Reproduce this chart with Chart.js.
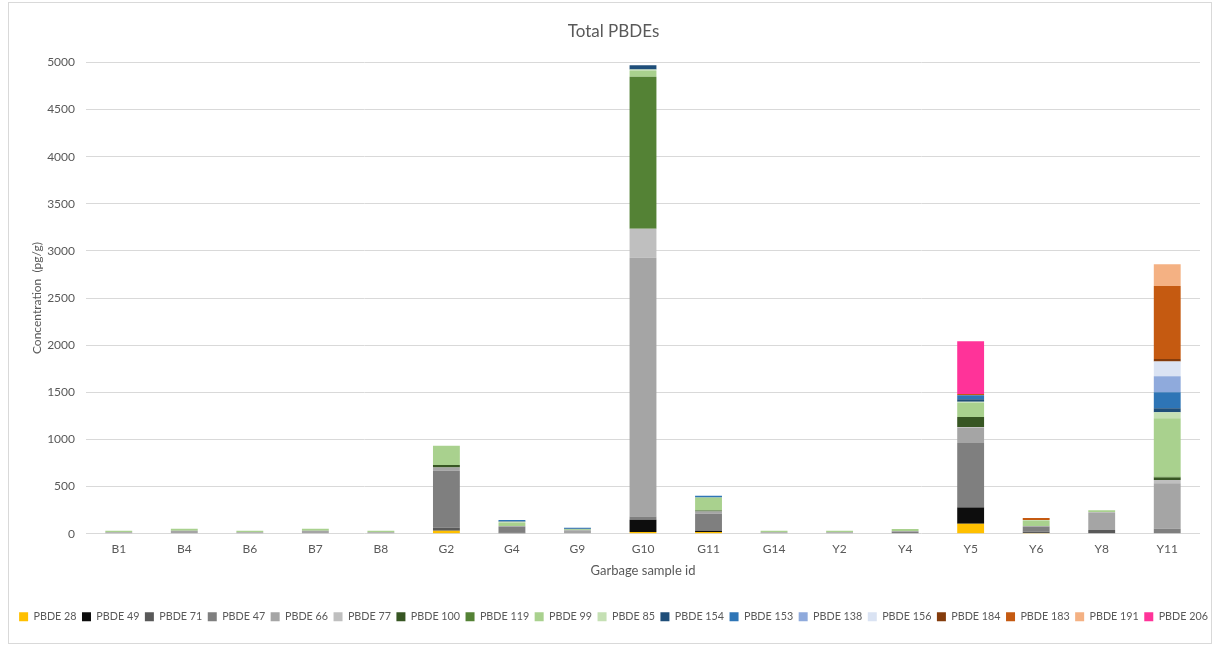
<!DOCTYPE html>
<html>
<head>
<meta charset="utf-8">
<script src="https://cdn.jsdelivr.net/npm/chart.js@4.4.1/dist/chart.umd.min.js"></script>
<style>
  html, body { margin: 0; padding: 0; background: #ffffff; }
  #wrap { position: relative; width: 1215px; height: 648px; overflow: hidden; }
  #frame { position: absolute; left: 8px; top: 2px; width: 1204px; height: 642px; border: 1px solid #d9d9d9; box-sizing: border-box; }
  #c { position: absolute; left: 0; top: 0; }
</style>
</head>
<body>
<div id="wrap">
  <div id="frame"></div>
  <canvas id="c" width="1215" height="648"></canvas>
</div>
<script>
// Sample ids on the category axis
const samples = ['B1', 'B4', 'B6', 'B7', 'B8', 'G2', 'G4', 'G9', 'G10', 'G11', 'G14', 'Y2', 'Y4', 'Y5', 'Y6', 'Y8', 'Y11'];

// Congener concentrations (pg/g), one value per sample id
const pbde28  = [0, 0, 0, 0, 0, 32, 5, 0, 18, 18, 0, 0, 0, 106, 8, 0, 0];
const pbde49  = [0, 0, 0, 0, 0, 0, 0, 0, 130, 14, 0, 0, 0, 173, 0, 0, 0];
const pbde71  = [0, 0, 0, 0, 0, 32, 8, 0, 0, 0, 0, 0, 0, 5, 12, 40, 0];
const pbde47  = [0, 0, 0, 0, 0, 604, 60, 5, 35, 180, 0, 0, 20, 678, 53, 0, 53];
const pbde66  = [15, 32, 15, 32, 15, 35, 10, 33, 2746, 25, 15, 15, 10, 162, 10, 180, 484];
const pbde77  = [0, 0, 0, 0, 0, 0, 0, 0, 307, 0, 0, 0, 0, 8, 0, 10, 32];
const pbde100 = [0, 0, 0, 0, 0, 25, 0, 0, 0, 10, 0, 0, 0, 106, 0, 0, 25];
const pbde119 = [0, 0, 0, 0, 0, 0, 0, 0, 1613, 0, 0, 0, 0, 0, 0, 0, 10];
const pbde99  = [17, 21, 17, 21, 17, 205, 30, 10, 60, 138, 17, 17, 20, 152, 53, 18, 621];
const pbde85  = [0, 0, 0, 0, 0, 0, 15, 0, 15, 0, 0, 0, 0, 10, 10, 0, 64];
const pbde154 = [0, 0, 0, 0, 0, 0, 5, 5, 46, 0, 0, 0, 0, 28, 0, 0, 42];
const pbde153 = [0, 0, 0, 0, 0, 0, 12, 10, 0, 18, 0, 0, 0, 40, 0, 0, 170];
const pbde138 = [0, 0, 0, 0, 0, 0, 0, 0, 0, 0, 0, 0, 0, 0, 0, 0, 170];
const pbde156 = [0, 0, 0, 0, 0, 0, 0, 0, 0, 0, 0, 0, 0, 0, 0, 0, 155];
const pbde184 = [0, 0, 0, 0, 0, 0, 0, 0, 0, 0, 0, 0, 0, 0, 0, 0, 28];
const pbde183 = [0, 0, 0, 0, 0, 0, 0, 0, 0, 0, 0, 0, 0, 14, 21, 0, 775];
const pbde191 = [0, 0, 0, 0, 0, 0, 0, 0, 0, 0, 0, 0, 0, 0, 0, 0, 230];
const pbde206 = [0, 0, 0, 0, 0, 0, 0, 0, 0, 0, 0, 0, 0, 560, 0, 0, 0];

// Value-axis ticks
const yTicks = [0, 500, 1000, 1500, 2000, 2500, 3000, 3500, 4000, 4500, 5000];

const congeners = [
  ['PBDE 28',  pbde28,  '#FFC000'],
  ['PBDE 49',  pbde49,  '#0D0D0D'],
  ['PBDE 71',  pbde71,  '#595959'],
  ['PBDE 47',  pbde47,  '#7F7F7F'],
  ['PBDE 66',  pbde66,  '#A5A5A5'],
  ['PBDE 77',  pbde77,  '#BFBFBF'],
  ['PBDE 100', pbde100, '#375623'],
  ['PBDE 119', pbde119, '#548235'],
  ['PBDE 99',  pbde99,  '#A9D18E'],
  ['PBDE 85',  pbde85,  '#C5E0B4'],
  ['PBDE 154', pbde154, '#1F4E79'],
  ['PBDE 153', pbde153, '#2E75B6'],
  ['PBDE 138', pbde138, '#8FAADC'],
  ['PBDE 156', pbde156, '#DAE3F3'],
  ['PBDE 184', pbde184, '#843C0C'],
  ['PBDE 183', pbde183, '#C55A11'],
  ['PBDE 191', pbde191, '#F4B183'],
  ['PBDE 206', pbde206, '#FF3399']
];

const FONT = 'Lato, "Liberation Sans", sans-serif';
const TEXT = '#595959';
const PAD_LEFT = 12;

new Chart(document.getElementById('c'), {
  type: 'bar',
  data: {
    labels: samples,
    datasets: congeners.map(([name, values, color]) => ({
      label: name,
      data: values,
      backgroundColor: color,
      borderWidth: 0,
      categoryPercentage: 1.0,
      barPercentage: 0.41
    }))
  },
  options: {
    responsive: false,
    animation: false,
    devicePixelRatio: 1,
    layout: { padding: { left: PAD_LEFT, right: 0, top: 0, bottom: 16 } },
    plugins: {
      title: {
        display: true,
        text: 'Total PBDEs',
        color: TEXT,
        font: { family: FONT, size: 17, weight: 'normal' },
        padding: { top: 21, bottom: 21 }
      },
      legend: {
        position: 'bottom',
        labels: {
          color: TEXT,
          font: { family: FONT, size: 10.75 },
          boxWidth: 9,
          boxHeight: 9,
          padding: 5.5
        }
      },
      tooltip: { enabled: false }
    },
    scales: {
      x: {
        stacked: true,
        grid: { display: false, drawTicks: false },
        border: { display: false },
        ticks: { color: TEXT, font: { family: FONT, size: 12 }, padding: 8 },
        title: {
          display: true,
          text: 'Garbage sample id',
          color: TEXT,
          font: { family: FONT, size: 13 },
          padding: { top: 0, bottom: 27 }
        },
        afterFit: (s) => { s.height = 72; }
      },
      y: {
        stacked: true,
        min: 0,
        max: 5000,
        afterBuildTicks: (s) => { s.ticks = yTicks.map(v => ({ value: v })); },
        grid: { color: '#d9d9d9', lineWidth: 1, drawTicks: false },
        border: { display: false },
        ticks: {
          color: TEXT,
          font: { family: FONT, size: 12 },
          padding: 11,
          callback: (v) => String(v)
        },
        title: {
          display: true,
          text: 'Concentration  (pg/g)',
          color: TEXT,
          font: { family: FONT, size: 12 },
          padding: { top: 37 - 7 - PAD_LEFT, bottom: 0 }
        },
        afterFit: (s) => { s.width = 86 - PAD_LEFT; }
      },
      yRight: {
        position: 'right',
        display: true,
        grid: { display: false, drawTicks: false },
        border: { display: false },
        ticks: { display: false },
        afterFit: (s) => { s.width = 15; }
      }
    }
  }
});
</script>
</body>
</html>
